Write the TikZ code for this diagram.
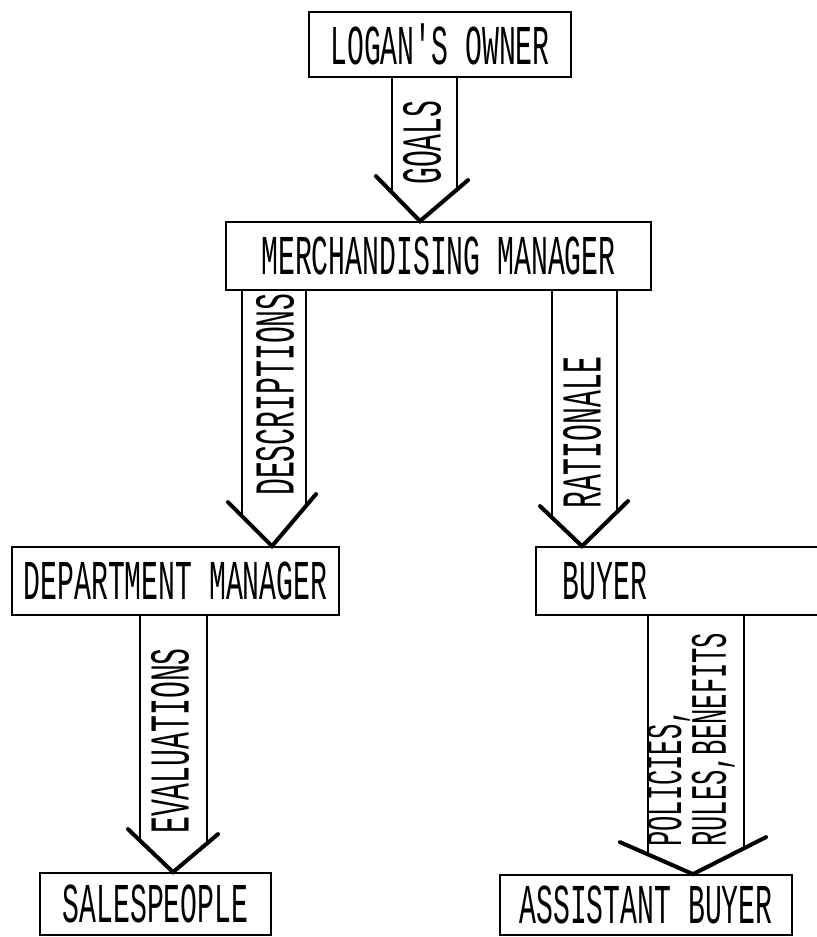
\documentclass[tikz,border=0pt]{standalone}
\usepackage{fontspec}
\newfontfamily\plotfont{Liberation Mono}[FakeStretch=0.5]
\usetikzlibrary{calc}

\begin{document}
\begin{tikzpicture}[
    x=0.02cm, y=-0.02cm,
    every node/.style={font=\plotfont\fontsize{32}{19}\selectfont},
    orgbox/.style={draw, line width=1pt, minimum height=1.34cm, inner sep=0pt},
    shaft/.style={line width=1pt},
    chevron/.style={line width=2.3pt, line cap=round},
    flowlabel/.style={rotate=90, anchor=west, inner sep=0pt},
]
% Frame
\clip (0,0) rectangle (817,937);

% Boxes
\node[orgbox, minimum width=5.24cm, minimum height=1.3cm] (owner) at (440,44.5) {LOGAN'S OWNER};
\node[orgbox, minimum width=8.5cm, minimum height=1.36cm] (merch) at (438.5,256) {MERCHANDISING MANAGER};
\node[orgbox, minimum width=6.54cm, minimum height=1.36cm] (dept) at (175.5,581) {DEPARTMENT MANAGER};
\node[orgbox, minimum height=1.36cm, anchor=west, inner xsep=0.54cm,
    text width=5cm, align=left] (buyer) at (535,581) {BUYER};
\node[orgbox, minimum width=4.62cm, minimum height=1.24cm] (sales) at (155.5,904) {SALESPEOPLE};
\node[orgbox, minimum width=5.84cm, minimum height=1.2cm] (asst) at (646,905) {ASSISTANT BUYER};

% Arrow tips
\coordinate (goalsTip) at (420,0 |- merch.north);
\coordinate (descTip) at (272,0 |- dept.north);
\coordinate (ratTip) at (582,0 |- buyer.north);
\coordinate (evalTip) at (173,0 |- sales.north);
\coordinate (polTip) at (693,0 |- asst.north);

% Goals
\draw[shaft] (392,0 |- owner.south) -- ($(goalsTip)+(-28,-29)$);
\draw[shaft] (457,0 |- owner.south) -- ($(goalsTip)+(37,-32)$);
\draw[chevron] ($(goalsTip)+(-44,-45)$) -- (goalsTip) -- ($(goalsTip)+(48,-41)$);
\node[flowlabel] (goals) at ($(goalsTip)+(2,-36)$) {GOALS};

% Descriptions
\draw[shaft] (242,0 |- merch.south) -- ($(descTip)+(-30,-30)$);
\draw[shaft] (306,0 |- merch.south) -- ($(descTip)+(34,-40)$);
\draw[chevron] ($(descTip)+(-44,-44)$) -- (descTip) -- ($(descTip)+(44,-52)$);
\node[flowlabel] (desc) at ($(descTip)+(3,-50)$) {DESCRIPTIONS};

% Rationale
\draw[shaft] (552,0 |- merch.south) -- ($(ratTip)+(-30,-29)$);
\draw[shaft] (617,0 |- merch.south) -- ($(ratTip)+(35,-34)$);
\draw[chevron] ($(ratTip)+(-42,-40)$) -- (ratTip) -- ($(ratTip)+(46,-45)$);
\node[flowlabel] (rat) at ($(ratTip)+(0,-37)$) {RATIONALE};

% Evaluations
\draw[shaft] (140,0 |- dept.south) -- ($(evalTip)+(-33,-32)$);
\draw[shaft] (207,0 |- dept.south) -- ($(evalTip)+(34,-29)$);
\draw[chevron] ($(evalTip)+(-45,-43)$) -- (evalTip) -- ($(evalTip)+(45,-38)$);
\node[flowlabel] (eval) at ($(evalTip)+(-3,-38)$) {EVALUATIONS};

% Policies
\draw[shaft] (648,0 |- buyer.south) -- ($(polTip)+(-45,-20)$);
\draw[shaft] (744,0 |- buyer.south) -- ($(polTip)+(51,-26)$);
\draw[chevron] ($(polTip)+(-73,-32)$) -- (polTip) -- ($(polTip)+(73,-37)$);
\node[flowlabel, align=left, font=\plotfont\fontsize{29}{18}\selectfont] (pol)
    at ($(polTip)+(-2,-27)$) {POLICIES,\\RULES,BENEFITS};

\end{tikzpicture}
\end{document}
